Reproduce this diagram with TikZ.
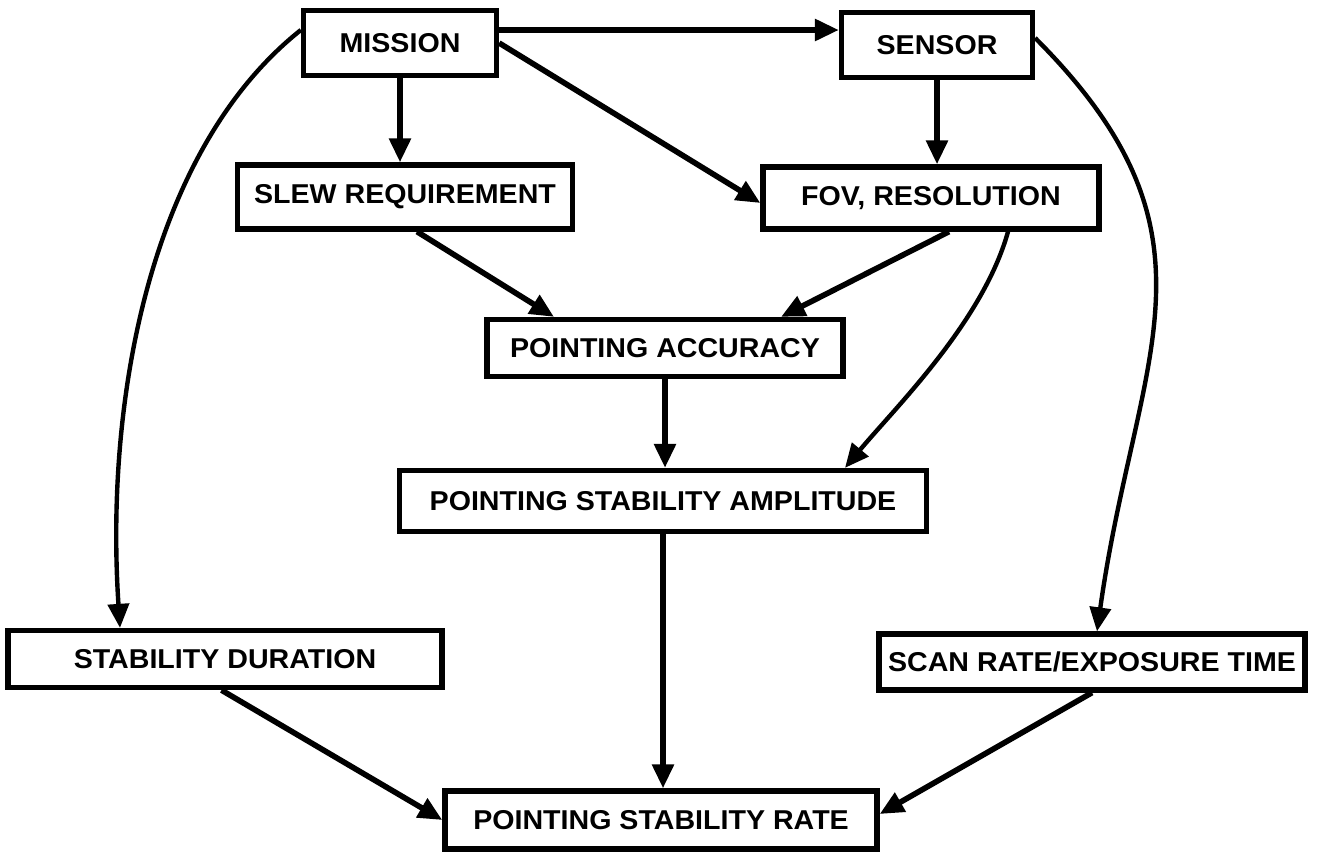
\documentclass[tikz,border=0pt]{standalone}
\usepackage{fontspec}
\newfontfamily\blockfont[FakeStretch=1.05]{Liberation Sans}
\usetikzlibrary{arrows.meta}

\begin{document}
\begin{tikzpicture}[x=0.2mm, y=-0.2mm,
    block/.style={draw, line width=3pt, inner sep=0pt,
        font=\blockfont\bfseries\fontsize{15.5}{18}\selectfont},
    link/.style={line width=3.2pt, -{Triangle[length=4.8mm, width=4.2mm]}},
    curvedlink/.style={line width=2.5pt, -{Triangle[length=4.8mm, width=4.2mm]}}]
    \useasboundingbox (0,0) rectangle (1317,855);

    % Blocks
    \node[block, minimum width=38.6mm, minimum height=13mm] (mission) at (400,43) {MISSION};
    \node[block, minimum width=38.2mm, minimum height=13mm] (sensor) at (937,45) {SENSOR};
    \node[block, minimum width=67mm, minimum height=12.8mm] (slew) at (405,197) {SLEW REQUIREMENT};
    \node[block, minimum width=67.2mm, minimum height=12.4mm] (fov) at (931,198) {FOV, RESOLUTION};
    \node[block, minimum width=71.2mm, minimum height=11.4mm] (acc) at (665,348) {POINTING ACCURACY};
    \node[block, minimum width=105.4mm, minimum height=12.2mm] (amp) at (663,501) {POINTING STABILITY AMPLITUDE};
    \node[block, minimum width=86.8mm, minimum height=11.4mm] (stab) at (225,659) {STABILITY DURATION};
    \node[block, minimum width=85.2mm, minimum height=11.2mm] (scan) at (1092,662) {SCAN RATE/EXPOSURE TIME};
    \node[block, minimum width=86.4mm, minimum height=11.6mm] (rate) at (661,820) {POINTING STABILITY RATE};

    % Straight links
    \draw[link] ([yshift=2.6mm]mission.east) -- ([yshift=2.6mm]mission.east -| sensor.west);
    \draw[link] (mission.south) -- (mission.south |- slew.north);
    \draw[link] (mission.east) -- ([yshift=-1mm]fov.west);
    \draw[link] (sensor.south) -- (sensor.south |- fov.north);
    \draw[link] ([xshift=2.4mm]slew.south) -- ([xshift=-22.2mm]acc.north);
    \draw[link] ([xshift=3.6mm]fov.south) -- ([xshift=23.2mm]acc.north);
    \draw[link] (acc.south) -- (acc.south |- amp.north);
    \draw[link] (amp.south) -- (amp.south |- rate.north);
    \draw[link] ([xshift=-0.7mm]stab.south) -- (rate.west);
    \draw[link] (scan.south) -- ([yshift=1.2mm]rate.east);

    % Curved links
    \draw[curvedlink] ([xshift=15.4mm]fov.south) .. controls +(-25,90) and +(50,-60) .. ([xshift=36.4mm]amp.north);
    \draw[curvedlink] ([yshift=2.6mm]mission.west) .. controls +(-151,120) and +(-15,-228) .. ([xshift=-21mm]stab.north);
    \draw[curvedlink] ([yshift=1.4mm]sensor.east) .. controls +(199,199) and +(39,-278) .. ([xshift=1mm]scan.north);
\end{tikzpicture}
\end{document}
